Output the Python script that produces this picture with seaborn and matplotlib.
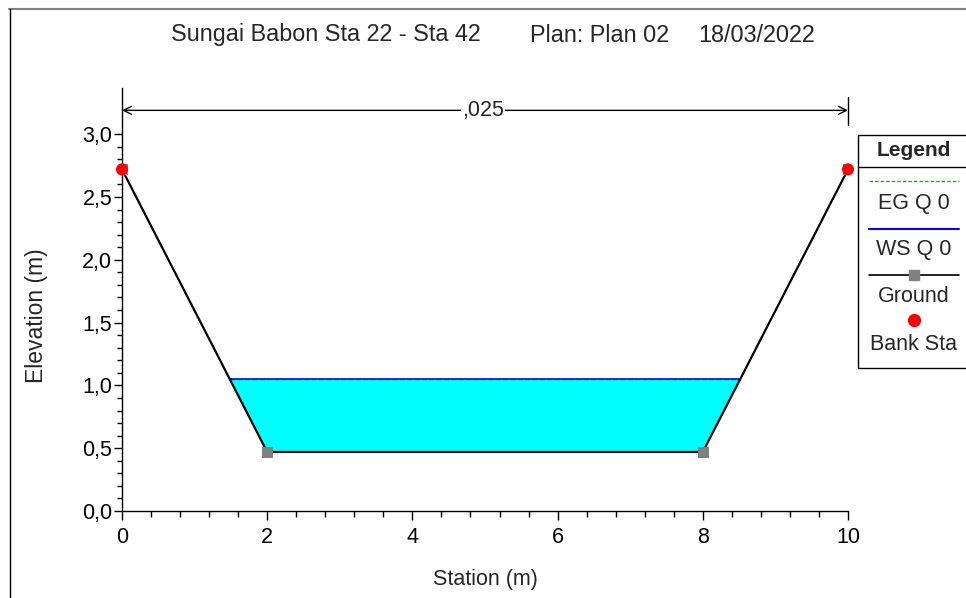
import numpy as np
import pandas as pd
import matplotlib
matplotlib.use("Agg")
import matplotlib.pyplot as plt
import seaborn as sns
from matplotlib.ticker import FixedLocator, FuncFormatter
from matplotlib.patches import Rectangle
from matplotlib.lines import Line2D

# Cross-section data
station = [0.0, 2.0, 8.0, 10.0]          # m
elevation = [2.72, 0.47, 0.47, 2.72]     # m
bank_station = [0.0, 10.0]
bank_elevation = [2.72, 2.72]
ws_elev = 1.05                           # water surface, Q 0
eg_elev = 1.05                           # energy grade, Q 0
manning_n = ",025"

title_parts = ["Sungai Babon Sta 22 - Sta 42", "Plan: Plan 02", "18/03/2022"]
x_ticks = [0, 2, 4, 6, 8, 10]
y_ticks = [0.0, 0.5, 1.0, 1.5, 2.0, 2.5, 3.0]

sns.set_theme(style="white")
plt.rcParams["font.family"] = ["Liberation Sans", "DejaVu Sans"]

W, H = 966, 598
fig = plt.figure(figsize=(W / 100, H / 100), dpi=100)
fig.patch.set_facecolor("white")

# plot area in pixel coordinates
x0_px, x1_px, ybot_px, ytop_px = 122, 848, 511, 88
ax = fig.add_axes([x0_px / W, (H - ybot_px) / H, (x1_px - x0_px) / W, (ybot_px - ytop_px) / H])
ax.set_facecolor("white")
ax.set_xlim(0, 10)
ax.set_ylim(0, 3.368)

df = pd.DataFrame({"Station": station, "Elevation": elevation})

# water area: between ground and water surface
def crossing(xa, ya, xb, yb, level):
    return xa + (level - ya) * (xb - xa) / (yb - ya)

xl = crossing(station[0], elevation[0], station[1], elevation[1], ws_elev)
xr = crossing(station[2], elevation[2], station[3], elevation[3], ws_elev)
wx = [xl] + station[1:3] + [xr]
wy = [ws_elev] + elevation[1:3] + [ws_elev]
ax.fill_between(wx, wy, ws_elev, color="#00FFFF", lw=0, zorder=1)
ax.plot([xl, xr], [eg_elev, eg_elev], color="#2ca02c", lw=1, ls="--", zorder=2)
ax.plot([xl, xr], [ws_elev, ws_elev], color="#0000FF", lw=1.2, zorder=3)

# ground line with point markers
sns.lineplot(data=df, x="Station", y="Elevation", sort=False, color="black",
             lw=1.6, marker="s", markersize=6.5, markerfacecolor="#808080",
             markeredgecolor="#808080", ax=ax, zorder=4)
# bank stations
sns.scatterplot(x=bank_station, y=bank_elevation, color="#FF0000", s=75,
                edgecolor="none", ax=ax, zorder=6, clip_on=False)

# Manning's n span
n_y = 3.19
ax.annotate("", xy=(0, n_y), xytext=(10, n_y),
            arrowprops=dict(arrowstyle="<->", lw=1, color="black",
                            shrinkA=0, shrinkB=0, mutation_scale=14),
            annotation_clip=False)
ax.plot([10, 10], [3.07, 3.30], color="black", lw=1, clip_on=False)
ax.text(4.97, n_y, manning_n, ha="center", va="center", fontsize=15.5,
        bbox=dict(facecolor="white", edgecolor="none", pad=1))

# axes styling
sns.despine(ax=ax)
for s in ("left", "bottom"):
    ax.spines[s].set_color("black")
    ax.spines[s].set_linewidth(1)
ax.xaxis.set_major_locator(FixedLocator(x_ticks))
ax.xaxis.set_minor_locator(FixedLocator([v for v in np.arange(0, 10.01, 0.4)
                                         if min(abs(v - t) for t in x_ticks) > 1e-6]))
ax.yaxis.set_major_locator(FixedLocator(y_ticks))
ax.yaxis.set_minor_locator(FixedLocator([v for v in np.arange(0, 3.001, 0.1)
                                         if min(abs(v - t) for t in y_ticks) > 1e-6]))
ax.yaxis.set_major_formatter(FuncFormatter(lambda v, p: f"{v:.1f}".replace(".", ",")))
ax.xaxis.set_major_formatter(FuncFormatter(lambda v, p: f"{v:g}"))
ax.tick_params(axis="both", which="both", direction="out", color="black",
               bottom=True, left=True, labelsize=15.5, labelcolor="black")
ax.tick_params(axis="x", which="major", length=6.5, width=1, pad=5)
ax.tick_params(axis="x", which="minor", length=4.5, width=1)
ax.tick_params(axis="y", which="major", length=6, width=1, pad=1)
ax.tick_params(axis="y", which="minor", length=3.5, width=1)
ax.grid(False)
ax.set_xlabel("")
ax.set_ylabel("")

# overlay for titles, labels, frame and legend in pixel coordinates
ov = fig.add_axes([0, 0, 1, 1], zorder=10)
ov.set_xlim(0, W)
ov.set_ylim(H, 0)
ov.axis("off")
ov.patch.set_alpha(0)

ov.plot([9, W], [8.5, 8.5], color="#808080", lw=1.5)
ov.plot([9.5, 9.5], [8.5, H], color="black", lw=1)

fs = 15.5
tfs = 16.8
ov.text(171, 35, title_parts[0], ha="left", va="center", fontsize=tfs)
ov.text(530, 35, title_parts[1], ha="left", va="center", fontsize=tfs)
ov.text(698, 35, title_parts[2], ha="left", va="center", fontsize=tfs)
ov.text(485, 580, "Station (m)", ha="center", va="center", fontsize=fs)
ov.text(36, 316, "Elevation (m)", ha="center", va="center", rotation=90, fontsize=16.5)

# legend box
ov.add_patch(Rectangle((858, 134.5), 120, 233, facecolor="white",
                       edgecolor="black", lw=1, clip_on=False))
ov.plot([858, W], [167, 167], color="black", lw=1)
ov.text(914, 150, "Legend", ha="center", va="center", fontsize=15, fontweight="bold")
ov.add_line(Line2D([869, 959], [181, 181], color="#2ca02c", lw=1, ls=(0, (2.5, 1.5))))
ov.text(914, 203, "EG Q 0", ha="center", va="center", fontsize=fs)
ov.add_line(Line2D([869, 959], [229, 229], color="#0000FF", lw=1.5))
ov.text(914, 249, "WS Q 0", ha="center", va="center", fontsize=fs)
ov.add_line(Line2D([869, 959], [275, 275], color="black", lw=1.2))
ov.add_line(Line2D([914], [275], marker="s", markersize=6.5, color="#808080", lw=0))
ov.text(914, 296, "Ground", ha="center", va="center", fontsize=fs)
ov.add_line(Line2D([914], [320], marker="o", markersize=8.5, color="#FF0000", lw=0))
ov.text(914, 345, "Bank Sta", ha="center", va="center", fontsize=fs)

fig.savefig("out.png", dpi=100)
